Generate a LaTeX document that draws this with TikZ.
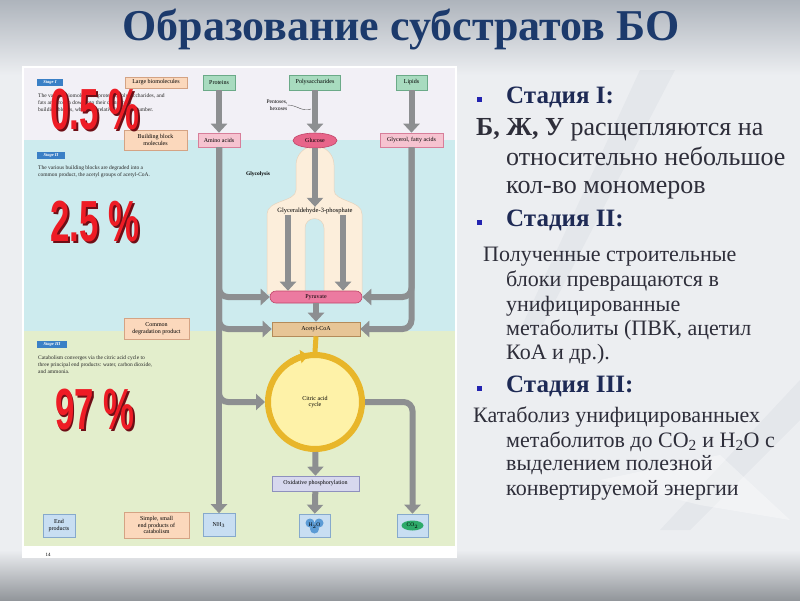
\documentclass[tikz,border=0pt]{standalone}
\usepackage{fontspec}
\setmainfont{Liberation Serif}
\setsansfont{Liberation Sans}
\usetikzlibrary{arrows.meta, calc, positioning, shapes.geometric}

\definecolor{bgtop}{HTML}{AEB4BC}
\definecolor{bgmid}{HTML}{ECEEF1}
\definecolor{bgbot}{HTML}{92969B}
\definecolor{streak}{HTML}{9FAAB8}
\definecolor{titleblue}{HTML}{1C3A6C}
\definecolor{headblue}{HTML}{1E2A55}
\definecolor{bodygray}{HTML}{2E2E3A}
\definecolor{bulletblue}{HTML}{2323B0}
\definecolor{stageone}{HTML}{F2F0F6}
\definecolor{stagetwo}{HTML}{CDEBEE}
\definecolor{stagethree}{HTML}{E3EECC}
\definecolor{tagblue}{HTML}{3A80C6}
\definecolor{pipegray}{HTML}{8D8F91}
\definecolor{peach}{HTML}{FBD8BC}
\definecolor{peachdark}{HTML}{D4A384}
\definecolor{mint}{HTML}{A8DBBF}
\definecolor{mintdark}{HTML}{6BAA88}
\definecolor{rosy}{HTML}{F6C3D0}
\definecolor{rosydark}{HTML}{D77E9A}
\definecolor{glucpink}{HTML}{E8658A}
\definecolor{glucdark}{HTML}{C04468}
\definecolor{pyrpink}{HTML}{EC7AA0}
\definecolor{acotan}{HTML}{E7C596}
\definecolor{acodark}{HTML}{B48B5A}
\definecolor{lavbox}{HTML}{D7D8EE}
\definecolor{lavdark}{HTML}{8E90BE}
\definecolor{skybox}{HTML}{C8DEF2}
\definecolor{skydark}{HTML}{86A9CC}
\definecolor{cream}{HTML}{FCEEDB}
\definecolor{creamdark}{HTML}{E5D3BE}
\definecolor{ringgold}{HTML}{E8B62A}
\definecolor{ringfill}{HTML}{FEF2A8}
\definecolor{watermol}{HTML}{5B9BD5}
\definecolor{co2mol}{HTML}{2EAA6A}
\definecolor{pctred}{HTML}{EE1C25}
\definecolor{pctdark}{HTML}{6E0E16}

\begin{document}
\begin{tikzpicture}[x=1pt, y=-1pt, >={Triangle[width=16pt,length=9pt]},
    box/.style={draw, line width=0.6pt, inner sep=1pt, align=center, font=\fontsize{6}{6.8}\selectfont},
    peachbox/.style={box, fill=peach, draw=peachdark},
    mintbox/.style={box, fill=mint, draw=mintdark, minimum height=15pt},
    rosybox/.style={box, fill=rosy, draw=rosydark, minimum height=14pt},
    skyboxs/.style={box, fill=skybox, draw=skydark, minimum width=32pt, minimum height=23pt},
    pipe/.style={draw=pipegray, line width=6pt, ->, rounded corners=9pt},
    stagetag/.style={fill=tagblue, text=white, inner sep=0.8pt, minimum height=7pt, font=\fontsize{4.5}{5}\selectfont\bfseries\itshape},
    stagetext/.style={anchor=north west, align=left, inner sep=0pt, text=black!85, font=\fontsize{5.5}{7}\selectfont},
    pct/.style={text=pctred, inner sep=0pt, xscale=0.6, font=\fontsize{58}{58}\sffamily\bfseries},
    pctshadow/.style={pct, text=pctdark},
    head/.style={anchor=base west, inner sep=0pt, text=headblue, font=\fontsize{25}{25}\selectfont\bfseries},
    bigbody/.style={anchor=base west, inner sep=0pt, text=bodygray, font=\fontsize{26}{26}\selectfont},
    body/.style={anchor=base west, inner sep=0pt, text=bodygray, font=\fontsize{22}{22}\selectfont},
    bullet/.style={fill=bulletblue, minimum size=5pt, inner sep=0pt}]
\useasboundingbox (0,0) rectangle (800,600);

% slide background
\shade[top color=bgtop, bottom color=bgmid] (0,0) rectangle (800,75);
\fill[bgmid] (0,75) rectangle (800,550);
\shade[top color=bgmid, bottom color=bgbot] (0,550) rectangle (800,600);
\fill[streak, opacity=.1] (640,70) -- (675,70) -- (540,330) -- (520,330) -- cycle;
\fill[streak, opacity=.1] (800,380) -- (800,420) -- (690,530) -- (660,530) -- cycle;
\fill[white, opacity=.35] (600,480) -- (720,455) -- (790,520) -- (700,505) -- cycle;

\node[font=\fontsize{44}{44}\selectfont\bfseries, text=titleblue, inner sep=0pt] (title) at (401,29) {Образование субстратов БО};

% figure panel
\fill[white] (22,66) rectangle (457,558);
\fill[stageone] (24,68) rectangle (455,140);
\fill[stagetwo] (24,140) rectangle (455,331);
\fill[stagethree] (24,331) rectangle (455,546);

% glycolysis tube
\draw[fill=cream, draw=creamdark, line width=0.5pt]
  (296,165) arc[start angle=180, end angle=360, radius=19] -- (334,190)
  .. controls (334,202) and (362,200) .. (362,214) -- (362,294) -- (324,294) -- (324,228)
  arc[start angle=0, end angle=-180, radius=9.5] -- (305,294) -- (267,294) -- (267,214)
  .. controls (267,200) and (296,202) .. (296,190) -- cycle;

\node[stagetag, minimum width=26pt] (tag1) at (50,82) {Stage I};
\node[stagetext] (txt1) at (38,93) {The various biomolecules (proteins, polysaccharides, and\\fats are broken down into their component\\building blocks, which are relatively few in number.};
\node[stagetag, minimum width=28pt] (tag2) at (51,155.5) {Stage II};
\node[stagetext] (txt2) at (38,165) {The various building blocks are degraded into a\\common product, the acetyl groups of acetyl-CoA.};
\node[stagetag, minimum width=30pt] (tag3) at (52,344) {Stage III};
\node[stagetext] (txt3) at (38,355) {Catabolism converges via the citric acid cycle to\\three principal end products: water, carbon dioxide,\\and ammonia.};

\node[peachbox, minimum width=62pt, minimum height=11pt] (large) at (156,82.5) {Large biomolecules};
\node[peachbox, minimum width=63pt, minimum height=20pt] (bblock) at (155.5,140) {Building block\\molecules};
\node[peachbox, minimum width=65pt, minimum height=21pt] (common) at (156.5,328.5) {Common\\degradation product};
\node[peachbox, minimum width=65pt, minimum height=26pt] (simple) at (156.5,525) {Simple, small\\end products of\\catabolism};

\node[mintbox, minimum width=32pt] (prot) at (219,82.5) {Proteins};
\node[mintbox, minimum width=51pt] (poly) at (315,82.5) {Polysaccharides};
\node[mintbox, minimum width=31pt] (lip) at (411.5,82.5) {Lipids};

\node[rosybox, minimum width=42pt] (amino) at (219,140) {Amino acids};
\node[box, ellipse, fill=glucpink, draw=glucdark, minimum width=44pt, minimum height=15pt] (gluc) at (315,140.5) {Glucose};
\node[rosybox, minimum width=63pt] (glyc) at (411.5,140) {Glycerol, fatty acids};

\node[font=\fontsize{5.5}{6.5}\selectfont, align=right, inner sep=0pt] (pent) at (277,105) {Pentoses,\\hexoses};
\node[font=\fontsize{5.5}{6}\selectfont\bfseries, inner sep=0pt] (glyco) at (258,174) {Glycolysis};
\node[font=\fontsize{6.5}{7}\selectfont, inner sep=1pt] (g3p) at (315,211) {Glyceraldehyde-3-phosphate};

\node[box, rounded corners=6pt, fill=pyrpink, draw=glucdark, minimum width=92pt, minimum height=12pt] (pyr) at (316,297) {Pyruvate};
\node[box, fill=acotan, draw=acodark, minimum width=88pt, minimum height=14pt] (acoa) at (316,329) {Acetyl-CoA};
\node[box, circle, fill=ringfill, draw=ringgold, line width=6pt, minimum size=94pt] (tca) at (315,402) {Citric acid\\cycle};
\node[box, fill=lavbox, draw=lavdark, minimum width=87pt, minimum height=15pt] (oxp) at (315.5,483.5) {Oxidative phosphorylation};

\node[skyboxs] (endp) at (59,525.5) {End\\products};
\node[skyboxs] (nh3) at (219,525) {NH$_3$};
\node[skyboxs, minimum width=31pt] (h2o) at (314.5,525.5) {};
\fill[watermol] (310,523) circle (4.5) (319,523) circle (4.5) (314.5,529) circle (4.5);
\node[font=\fontsize{5.5}{6}\selectfont, inner sep=0pt] (h2ot) at (h2o) {H$_2$O};
\node[skyboxs, minimum width=31pt] (co2) at (412.5,525.5) {};
\node[ellipse, fill=co2mol, inner sep=0.5pt, minimum width=22pt, minimum height=10pt, font=\fontsize{5.5}{6}\selectfont] (co2t) at (co2) {CO$_2$};

% connectors
\draw[pipe] (prot) -- (amino);
\draw[pipe] (poly) -- (gluc);
\draw[pipe] (lip) -- (glyc);
\coordinate (pentx) at (311,109);
\draw[black!70, line width=0.4pt] (pent.east) to[out=0, in=200] (pentx);
\draw[pipe] (gluc) -- (g3p);
\coordinate (gl) at ([xshift=-27pt]g3p.south);
\coordinate (gr) at ([xshift=28pt]g3p.south);
\draw[pipe] (gl) -- (gl |- pyr.north);
\draw[pipe] (gr) -- (gr |- pyr.north);
\draw[pipe] (amino.south) |- (pyr.west);
\draw[pipe] (amino.south) |- (acoa.west);
\draw[pipe] (amino.south) |- (tca.west);
\draw[pipe] (amino.south) -- (nh3.north);
\draw[pipe] (glyc.south) |- (pyr.east);
\draw[pipe] (glyc.south) |- (acoa.east);
\draw[pipe] (pyr) -- (acoa);
\draw[ringgold, line width=5pt] (acoa.south) -- (tca.north);
\draw[ringgold, line width=6pt, -{Triangle[width=13pt,length=8pt]}] (tca.center) ++(238:47) arc[start angle=238, end angle=262, radius=47];
\draw[pipe] (tca.east) -| (co2.north);
\draw[pipe] (tca) -- (oxp);
\draw[pipe] (oxp) -- (h2o);

\node[font=\fontsize{5}{5}\selectfont, inner sep=0pt] (pageno) at (48,555) {14};

% percentages
\node[pctshadow] (p05s) at (96.5,111.5) {0.5 \%};
\node[pct] (p05) at (95,110) {0.5 \%};
\node[pctshadow] (p25s) at (96.5,223.5) {2.5 \%};
\node[pct] (p25) at (95,222) {2.5 \%};
\node[pctshadow] (p97s) at (96.5,411.5) {97 \%};
\node[pct] (p97) at (95,410) {97 \%};

% right column
\node[bullet] (b1) at (479,99) {};
\node[head] (h1) at (506,103) {Стадия I:};
\node[bigbody] (s1a) at (476,135) {\textbf{Б, Ж, У} расщепляются на};
\node[bigbody] (s1b) at (506,165) {относительно небольшое};
\node[bigbody] (s1c) at (506,193) {кол-во мономеров};
\node[bullet] (b2) at (479,222) {};
\node[head] (h2) at (506,226) {Стадия II:};
\node[body] (s2a) at (483,261) {Полученные строительные};
\node[body] (s2b) at (506,286) {блоки превращаются в};
\node[body] (s2c) at (506,311) {унифицированные};
\node[body] (s2d) at (506,335) {метаболиты (ПВК, ацетил};
\node[body] (s2e) at (506,359) {КоА и др.).};
\node[bullet] (b3) at (479,388) {};
\node[head] (h3) at (506,392) {Стадия III:};
\node[body] (s3a) at (473,422) {Катаболиз унифицированныех};
\node[body] (s3b) at (506,447) {метаболитов до CO\textsubscript{2} и H\textsubscript{2}O с};
\node[body] (s3c) at (506,470) {выделением полезной};
\node[body] (s3d) at (506,495) {конвертируемой энергии};
\end{tikzpicture}
\end{document}
